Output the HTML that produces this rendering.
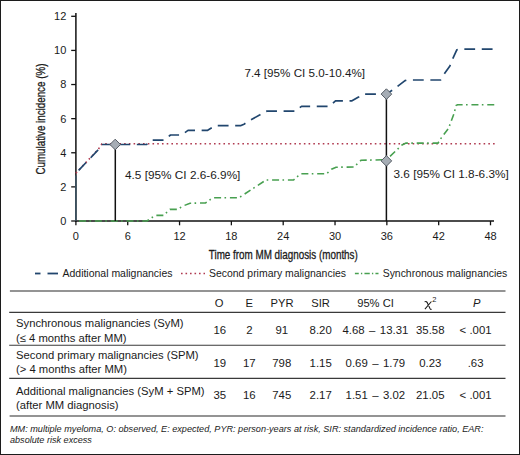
<!DOCTYPE html>
<html><head><meta charset="utf-8"><style>
html,body{margin:0;padding:0;background:#fff;}
body{width:520px;height:455px;overflow:hidden;}
svg{display:block;}
text{font-family:"Liberation Sans", sans-serif;fill:#1a1a1a;}
</style></head><body>
<svg width="520" height="455" viewBox="0 0 520 455">
<rect x="0.5" y="0.5" width="519" height="454" fill="#fff" stroke="#1c1c1c" stroke-width="1"/>

<line x1="75.9" y1="13" x2="75.9" y2="221.7" stroke="#111" stroke-width="1.5"/>
<line x1="75.2" y1="221.0" x2="494" y2="221.0" stroke="#111" stroke-width="1.4"/>
<line x1="71.2" y1="221.00" x2="75.9" y2="221.00" stroke="#111" stroke-width="1.3"/>
<text x="66.3" y="224.90" font-size="11" text-anchor="end">0</text>
<line x1="71.2" y1="186.88" x2="75.9" y2="186.88" stroke="#111" stroke-width="1.3"/>
<text x="66.3" y="190.78" font-size="11" text-anchor="end">2</text>
<line x1="71.2" y1="152.77" x2="75.9" y2="152.77" stroke="#111" stroke-width="1.3"/>
<text x="66.3" y="156.67" font-size="11" text-anchor="end">4</text>
<line x1="71.2" y1="118.65" x2="75.9" y2="118.65" stroke="#111" stroke-width="1.3"/>
<text x="66.3" y="122.55" font-size="11" text-anchor="end">6</text>
<line x1="71.2" y1="84.53" x2="75.9" y2="84.53" stroke="#111" stroke-width="1.3"/>
<text x="66.3" y="88.43" font-size="11" text-anchor="end">8</text>
<line x1="71.2" y1="50.42" x2="75.9" y2="50.42" stroke="#111" stroke-width="1.3"/>
<text x="66.3" y="54.32" font-size="11" text-anchor="end">10</text>
<line x1="71.2" y1="16.30" x2="75.9" y2="16.30" stroke="#111" stroke-width="1.3"/>
<text x="66.3" y="20.20" font-size="11" text-anchor="end">12</text>
<line x1="75.90" y1="221.0" x2="75.90" y2="225.3" stroke="#111" stroke-width="1.3"/>
<text x="75.90" y="240.3" font-size="11" text-anchor="middle">0</text>
<line x1="127.73" y1="221.0" x2="127.73" y2="225.3" stroke="#111" stroke-width="1.3"/>
<text x="127.73" y="240.3" font-size="11" text-anchor="middle">6</text>
<line x1="179.55" y1="221.0" x2="179.55" y2="225.3" stroke="#111" stroke-width="1.3"/>
<text x="179.55" y="240.3" font-size="11" text-anchor="middle">12</text>
<line x1="231.38" y1="221.0" x2="231.38" y2="225.3" stroke="#111" stroke-width="1.3"/>
<text x="231.38" y="240.3" font-size="11" text-anchor="middle">18</text>
<line x1="283.20" y1="221.0" x2="283.20" y2="225.3" stroke="#111" stroke-width="1.3"/>
<text x="283.20" y="240.3" font-size="11" text-anchor="middle">24</text>
<line x1="335.03" y1="221.0" x2="335.03" y2="225.3" stroke="#111" stroke-width="1.3"/>
<text x="335.03" y="240.3" font-size="11" text-anchor="middle">30</text>
<line x1="386.85" y1="221.0" x2="386.85" y2="225.3" stroke="#111" stroke-width="1.3"/>
<text x="386.85" y="240.3" font-size="11" text-anchor="middle">36</text>
<line x1="438.68" y1="221.0" x2="438.68" y2="225.3" stroke="#111" stroke-width="1.3"/>
<text x="438.68" y="240.3" font-size="11" text-anchor="middle">42</text>
<line x1="490.50" y1="221.0" x2="490.50" y2="225.3" stroke="#111" stroke-width="1.3"/>
<text x="490.50" y="240.3" font-size="11" text-anchor="middle">48</text>
<text x="208.8" y="259" font-size="12.3" stroke="#1a1a1a" stroke-width="0.3" textLength="149" lengthAdjust="spacingAndGlyphs">Time from MM diagnosis (months)</text>
<text transform="translate(44.6,174.6) rotate(-90)" x="0" y="0" font-size="12.3" stroke="#1a1a1a" stroke-width="0.3" textLength="111" lengthAdjust="spacingAndGlyphs">Cumulative incidence (%)</text>
<line x1="75.9" y1="175.5" x2="75.9" y2="221" stroke="#3d5566" stroke-width="1.5"/>
<polyline points="75.9,173.2 98.5,149.0 102.0,143.8 495.0,143.8" fill="none" stroke="#b03a50" stroke-width="1.6" stroke-dasharray="1.6 3.13"/>
<polyline points="75.9,221.0 147.0,221.0 155.0,215.4 163.5,215.4 170.0,209.4 177.5,209.4 183.0,206.0 190.0,203.2 205.5,203.0 213.0,197.7 239.0,197.7 266.0,180.0 293.5,180.0 300.5,173.8 326.5,173.8 331.5,169.2 336.0,167.2 354.0,167.0 361.0,160.3 386.4,159.7 402.0,145.0 406.0,143.1 438.0,143.1 441.5,137.6 448.6,128.2 454.1,113.4 456.0,105.5 457.5,104.8 495.0,104.8" fill="none" stroke="#48a050" stroke-width="1.6" stroke-dasharray="7 3.4 1.6 3.817" stroke-dashoffset="12.67"/>
<polyline points="75.9,173.2 98.5,149.5 102.0,144.5 146.5,144.5 152.0,140.1 164.5,140.1 170.5,135.0 181.5,135.0 188.0,130.4 207.3,130.4 215.5,125.6 241.0,125.6 244.0,124.2 251.0,119.8 260.0,114.8 265.0,111.6 267.0,111.1 295.5,111.1 301.5,106.3 329.5,106.3 335.5,100.9 352.0,100.8 359.0,96.8 363.0,94.2 386.4,94.1 391.0,91.0 397.5,86.4 405.0,80.6 407.0,80.0 440.5,80.0 444.3,73.9 449.9,66.0 452.6,59.1 456.8,49.8 458.5,49.2 495.0,49.2" fill="none" stroke="#21466e" stroke-width="1.7" stroke-linejoin="round" stroke-dasharray="10.8 6.625" stroke-dashoffset="13.45"/>
<line x1="115.3" y1="144.5" x2="115.3" y2="221.0" stroke="#111" stroke-width="1.5"/>
<line x1="386.4" y1="94" x2="386.4" y2="221.0" stroke="#111" stroke-width="1.5"/>
<polygon points="115.2,139.2 120.5,144.5 115.2,149.8 109.9,144.5" fill="#a6adb5" stroke="#575e66" stroke-width="1"/>
<polygon points="386.4,88.8 391.7,94.1 386.4,99.39999999999999 381.09999999999997,94.1" fill="#a6adb5" stroke="#575e66" stroke-width="1"/>
<polygon points="386.4,155.6 391.7,160.9 386.4,166.20000000000002 381.09999999999997,160.9" fill="#a6adb5" stroke="#575e66" stroke-width="1"/>
<text x="125" y="179.3" font-size="11.5" textLength="115.4" lengthAdjust="spacingAndGlyphs">4.5 [95% CI 2.6-6.9%]</text>
<text x="244.4" y="76.6" font-size="11.5" textLength="120.6" lengthAdjust="spacingAndGlyphs">7.4 [95% CI 5.0-10.4%]</text>
<text x="393.5" y="178.3" font-size="11.5" textLength="115.2" lengthAdjust="spacingAndGlyphs">3.6 [95% CI 1.8-6.3%]</text>
<line x1="35" y1="273.5" x2="40.5" y2="273.5" stroke="#21466e" stroke-width="1.8"/>
<line x1="47.5" y1="273.5" x2="58" y2="273.5" stroke="#21466e" stroke-width="1.8"/>
<text x="62.5" y="277" font-size="10.5" textLength="110" lengthAdjust="spacingAndGlyphs">Additional malignancies</text>
<line x1="181" y1="273.5" x2="205" y2="273.5" stroke="#b03a50" stroke-width="1.6" stroke-dasharray="1.6 2.9"/>
<text x="209" y="277" font-size="10.5" textLength="137" lengthAdjust="spacingAndGlyphs">Second primary malignancies</text>
<line x1="354.9" y1="273.5" x2="378.5" y2="273.5" stroke="#48a050" stroke-width="1.6" stroke-dasharray="5.3 2.2 1.3 2.2" stroke-dashoffset="1.45"/>
<text x="382.7" y="277" font-size="10.5" textLength="124.6" lengthAdjust="spacingAndGlyphs">Synchronous malignancies</text>
<line x1="9.9" y1="291" x2="505.5" y2="291" stroke="#707070" stroke-width="1.6"/>
<line x1="9.2" y1="312.3" x2="505.5" y2="312.3" stroke="#3a3a3a" stroke-width="1.2"/>
<line x1="9.2" y1="345.3" x2="505.5" y2="345.3" stroke="#3a3a3a" stroke-width="1.1"/>
<line x1="9.2" y1="378.4" x2="505.5" y2="378.4" stroke="#3a3a3a" stroke-width="1.1"/>
<line x1="9.6" y1="416" x2="505.5" y2="416" stroke="#707070" stroke-width="1.6"/>
<text x="219" y="306.5" font-size="11.2" text-anchor="middle">O</text>
<text x="249.2" y="306.5" font-size="11.2" text-anchor="middle">E</text>
<text x="282" y="306.5" font-size="11.2" text-anchor="middle">PYR</text>
<text x="320.6" y="306.5" font-size="11.2" text-anchor="middle">SIR</text>
<text x="375.5" y="306.5" font-size="11.2" text-anchor="middle">95% CI</text>
<path d="M424.6,301.9 C426.2,300.9 427,301.8 427.8,303.8 L430.1,308.8 C430.5,309.5 431.1,309.5 431.6,309.1 M431.4,301.5 L424.9,309.1" fill="none" stroke="#1a1a1a" stroke-width="1.05"/><text x="432.3" y="301.7" font-size="7.5">2</text>
<text x="476.7" y="306.5" font-size="11.2" font-style="italic" text-anchor="middle">P</text>
<text x="16" y="327.4" font-size="11.25">Synchronous malignancies (SyM)</text>
<text x="16" y="341.8" font-size="11.25">(≤ 4 months after MM)</text>
<text x="219.8" y="333.5" font-size="11.4" text-anchor="middle">16</text>
<text x="249.3" y="333.5" font-size="11.4" text-anchor="middle">2</text>
<text x="281.8" y="333.5" font-size="11.4" text-anchor="middle">91</text>
<text x="320.7" y="333.5" font-size="11.4" text-anchor="middle">8.20</text>
<text x="375.4" y="333.5" font-size="11.4" text-anchor="middle" word-spacing="1.3">4.68 – 13.31</text>
<text x="430.3" y="333.5" font-size="11.4" text-anchor="middle">35.58</text>
<text x="475.6" y="333.5" font-size="11.4" text-anchor="middle">&lt; .001</text>
<text x="16" y="358.5" font-size="11.25">Second primary malignancies (SPM)</text>
<text x="16" y="372.6" font-size="11.25">(&gt; 4 months after MM)</text>
<text x="219.8" y="366.5" font-size="11.4" text-anchor="middle">19</text>
<text x="249.3" y="366.5" font-size="11.4" text-anchor="middle">17</text>
<text x="281.8" y="366.5" font-size="11.4" text-anchor="middle">798</text>
<text x="320.7" y="366.5" font-size="11.4" text-anchor="middle">1.15</text>
<text x="375.4" y="366.5" font-size="11.4" text-anchor="middle" word-spacing="1.3">0.69 – 1.79</text>
<text x="430.3" y="366.5" font-size="11.4" text-anchor="middle">0.23</text>
<text x="475.6" y="366.5" font-size="11.4" text-anchor="middle">.63</text>
<text x="16" y="394.6" font-size="11.25">Additional malignancies (SyM + SPM)</text>
<text x="16" y="408.7" font-size="11.25">(after MM diagnosis)</text>
<text x="219.8" y="398.8" font-size="11.4" text-anchor="middle">35</text>
<text x="249.3" y="398.8" font-size="11.4" text-anchor="middle">16</text>
<text x="281.8" y="398.8" font-size="11.4" text-anchor="middle">745</text>
<text x="320.7" y="398.8" font-size="11.4" text-anchor="middle">2.17</text>
<text x="375.4" y="398.8" font-size="11.4" text-anchor="middle" word-spacing="1.3">1.51 – 3.02</text>
<text x="430.3" y="398.8" font-size="11.4" text-anchor="middle">21.05</text>
<text x="475.6" y="398.8" font-size="11.4" text-anchor="middle">&lt; .001</text>
<text x="10" y="431.5" font-size="9.1" font-style="italic" textLength="473.5" lengthAdjust="spacingAndGlyphs">MM: multiple myeloma, O: observed, E: expected, PYR: person-years at risk, SIR: standardized incidence ratio, EAR:</text>
<text x="10" y="443" font-size="9.1" font-style="italic">absolute risk excess</text>
</svg></body></html>
